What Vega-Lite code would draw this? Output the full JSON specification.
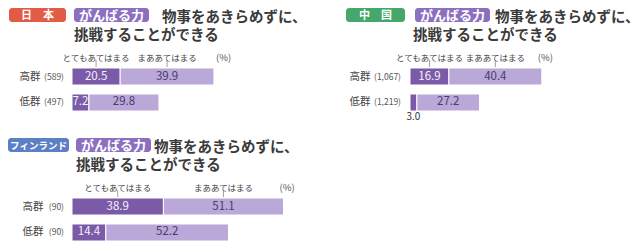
{
  "$schema": "https://vega.github.io/schema/vega-lite/v6.json",
  "background": "white",
  "padding": {"left": 7, "top": 6, "right": 0, "bottom": 0},
  "config": {"view": {"stroke": null}, "font": "Noto Sans CJK JP"},
  "spacing": 14,
  "vconcat": [
    {
      "spacing": 38,
      "hconcat": [
        {
          "spacing": 0,
          "vconcat": [
            {
              "width": 131, "height": 36,
              "data": {"values": [
                {"role": "country", "line": 1, "text": "日　本"},
                {"role": "tag", "line": 1, "text": "がんばる力"},
                {"role": "q", "line": 1, "text": "物事をあきらめずに、"},
                {"role": "q", "line": 2, "text": "挑戦することができる"}
              ]},
              "encoding": {"y": {"field": "line", "type": "ordinal", "scale": {"domain": [1, 2], "paddingInner": 0, "paddingOuter": 0}, "axis": null, "title": null}},
              "layer": [
                {"transform": [{"filter": "datum.role === 'country'"}], "mark": {"type": "rect", "width": 57, "height": 14, "cornerRadius": 3, "color": "#e25b45"},
                 "encoding": {"x": {"field": "role", "type": "nominal", "scale": {"domain": ["country", "tag"], "range": [-63, 68], "paddingInner": 0.2297, "paddingOuter": 0}, "axis": null, "title": null}}},
                {"transform": [{"filter": "datum.role === 'tag'"}], "mark": {"type": "rect", "width": 75, "height": 14, "cornerRadius": 3, "color": "#8c6fbf"},
                 "encoding": {"x": {"field": "role", "type": "nominal", "axis": null, "title": null}}},
                {"transform": [{"filter": "datum.role === 'country'"}], "mark": {"type": "text", "color": "white", "fontSize": 11, "fontWeight": "bold", "dy": 0.5},
                 "encoding": {"x": {"field": "role", "type": "nominal", "axis": null, "title": null}, "text": {"field": "text"}}},
                {"transform": [{"filter": "datum.role === 'tag'"}], "mark": {"type": "text", "color": "white", "fontSize": 13, "fontWeight": "bold", "dy": 0.5},
                 "encoding": {"x": {"field": "role", "type": "nominal", "axis": null, "title": null}, "text": {"field": "text"}}},
                {"transform": [{"filter": "datum.role === 'q' && datum.line === 1"}], "mark": {"type": "text", "align": "left", "dx": 50.5, "dy": 2.5, "fontSize": 14.5, "fontWeight": "bold", "color": "#3a3a3a"},
                 "encoding": {"x": {"datum": "tag", "type": "nominal", "axis": null}, "text": {"field": "text"}}},
                {"transform": [{"filter": "datum.role === 'q' && datum.line === 2"}], "mark": {"type": "text", "align": "left", "dx": -37.5, "dy": 2.5, "fontSize": 14.5, "fontWeight": "bold", "color": "#3a3a3a"},
                 "encoding": {"x": {"datum": "tag", "type": "nominal", "axis": null}, "text": {"field": "text"}}}
              ]
            },
            {
              "width": 235, "height": 69,
              "data": {"values": [
                {"grp": "高群", "n": "(589)", "cat": "とてもあてはまる", "v": 20.5},
                {"grp": "高群", "n": "(589)", "cat": "まああてはまる", "v": 39.9},
                {"grp": "低群", "n": "(497)", "cat": "とてもあてはまる", "v": 7.2},
                {"grp": "低群", "n": "(497)", "cat": "まああてはまる", "v": 29.8}
              ]},
              "transform": [
                {"stack": "v", "groupby": ["grp"], "sort": [{"field": "cat", "order": "ascending"}], "as": ["x0", "x1"]},
                {"calculate": "(datum.x0 + datum.x1) / 2", "as": "mid"}
              ],
              "encoding": {"y": {"field": "grp", "type": "nominal", "title": null, "scale": {"domain": ["高群", "低群"], "paddingInner": 0.346, "paddingOuter": 0.5, "align": 1},
                "axis": {"domain": false, "ticks": false, "labelPadding": 32, "labelFontSize": 10.5, "labelColor": "#444", "minExtent": 63, "maxExtent": 63, "title": null}}},
              "layer": [
                {"mark": {"type": "bar", "stroke": "white", "strokeWidth": 1},
                 "encoding": {"x": {"field": "x0", "type": "quantitative", "scale": {"domain": [0, 100]}, "axis": null, "title": null}, "x2": {"field": "x1"},
                   "color": {"field": "cat", "type": "nominal", "scale": {"domain": ["とてもあてはまる", "まああてはまる"], "range": ["#7b5aa7", "#b9a8d8"]}, "legend": null}}},
                {"transform": [{"filter": "datum.cat === 'とてもあてはまる' && datum.v >= 5"}], "mark": {"type": "text", "color": "#f4f0fa", "fontSize": 11.5},
                 "encoding": {"x": {"field": "mid", "type": "quantitative", "axis": null}, "text": {"field": "v", "format": ".1f"}}},
                {"transform": [{"filter": "datum.cat === 'まああてはまる' && datum.v >= 5"}], "mark": {"type": "text", "color": "#4a3b6e", "fontSize": 11.5},
                 "encoding": {"x": {"field": "mid", "type": "quantitative", "axis": null}, "text": {"field": "v", "format": ".1f"}}},
                {"transform": [{"filter": "datum.grp === '高群'"}], "mark": {"type": "text", "color": "#444", "fontSize": 8.5, "yOffset": -18.5},
                 "encoding": {"x": {"field": "mid", "type": "quantitative", "axis": null}, "text": {"field": "cat"}}},
                {"transform": [{"filter": "datum.grp === '高群'"}], "mark": {"type": "tick", "orient": "vertical", "size": 7, "thickness": 1, "color": "#777", "yOffset": -13},
                 "encoding": {"x": {"field": "mid", "type": "quantitative", "axis": null}}},
                {"transform": [{"filter": "datum.grp === '高群' && datum.cat === 'まああてはまる'"}], "mark": {"type": "text", "align": "left", "dx": 2, "yOffset": -18.5, "fontSize": 9.5, "color": "#555"},
                 "encoding": {"x": {"field": "x1", "type": "quantitative", "axis": null}, "text": {"value": "(%)"}}},
                {"transform": [{"filter": "datum.cat === 'とてもあてはまる'"}], "mark": {"type": "text", "align": "right", "dx": -8, "fontSize": 8.5, "color": "#555"},
                 "encoding": {"x": {"datum": 0, "type": "quantitative", "axis": null}, "text": {"field": "n"}}}
              ]
            }
          ]
        },
        {
          "spacing": 0,
          "vconcat": [
            {
              "width": 136, "height": 36,
              "data": {"values": [
                {"role": "country", "line": 1, "text": "中　国"},
                {"role": "tag", "line": 1, "text": "がんばる力"},
                {"role": "q", "line": 1, "text": "物事をあきらめずに、"},
                {"role": "q", "line": 2, "text": "挑戦することができる"}
              ]},
              "encoding": {"y": {"field": "line", "type": "ordinal", "scale": {"domain": [1, 2], "paddingInner": 0, "paddingOuter": 0}, "axis": null, "title": null}},
              "layer": [
                {"transform": [{"filter": "datum.role === 'country'"}], "mark": {"type": "rect", "width": 59, "height": 14, "cornerRadius": 3, "color": "#45a86a"},
                 "encoding": {"x": {"field": "role", "type": "nominal", "scale": {"domain": ["country", "tag"], "range": [-64, 72], "paddingInner": 0.2338, "paddingOuter": 0}, "axis": null, "title": null}}},
                {"transform": [{"filter": "datum.role === 'tag'"}], "mark": {"type": "rect", "width": 75, "height": 14, "cornerRadius": 3, "color": "#8c6fbf"},
                 "encoding": {"x": {"field": "role", "type": "nominal", "axis": null, "title": null}}},
                {"transform": [{"filter": "datum.role === 'country'"}], "mark": {"type": "text", "color": "white", "fontSize": 11, "fontWeight": "bold", "dy": 0.5},
                 "encoding": {"x": {"field": "role", "type": "nominal", "axis": null, "title": null}, "text": {"field": "text"}}},
                {"transform": [{"filter": "datum.role === 'tag'"}], "mark": {"type": "text", "color": "white", "fontSize": 13, "fontWeight": "bold", "dy": 0.5},
                 "encoding": {"x": {"field": "role", "type": "nominal", "axis": null, "title": null}, "text": {"field": "text"}}},
                {"transform": [{"filter": "datum.role === 'q' && datum.line === 1"}], "mark": {"type": "text", "align": "left", "dx": 42.5, "dy": 2.5, "fontSize": 14.5, "fontWeight": "bold", "color": "#3a3a3a"},
                 "encoding": {"x": {"datum": "tag", "type": "nominal", "axis": null}, "text": {"field": "text"}}},
                {"transform": [{"filter": "datum.role === 'q' && datum.line === 2"}], "mark": {"type": "text", "align": "left", "dx": -39.5, "dy": 2.5, "fontSize": 14.5, "fontWeight": "bold", "color": "#3a3a3a"},
                 "encoding": {"x": {"datum": "tag", "type": "nominal", "axis": null}, "text": {"field": "text"}}}
              ]
            },
            {
              "width": 230, "height": 69,
              "data": {"values": [
                {"grp": "高群", "n": "(1,067)", "cat": "とてもあてはまる", "v": 16.9},
                {"grp": "高群", "n": "(1,067)", "cat": "まああてはまる", "v": 40.4},
                {"grp": "低群", "n": "(1,219)", "cat": "とてもあてはまる", "v": 3.0},
                {"grp": "低群", "n": "(1,219)", "cat": "まああてはまる", "v": 27.2}
              ]},
              "transform": [
                {"stack": "v", "groupby": ["grp"], "sort": [{"field": "cat", "order": "ascending"}], "as": ["x0", "x1"]},
                {"calculate": "(datum.x0 + datum.x1) / 2", "as": "mid"}
              ],
              "encoding": {"y": {"field": "grp", "type": "nominal", "title": null, "scale": {"domain": ["高群", "低群"], "paddingInner": 0.346, "paddingOuter": 0.5, "align": 1},
                "axis": {"domain": false, "ticks": false, "labelPadding": 40, "labelFontSize": 10.5, "labelColor": "#444", "minExtent": 64, "maxExtent": 64, "title": null}}},
              "layer": [
                {"mark": {"type": "bar", "stroke": "white", "strokeWidth": 1},
                 "encoding": {"x": {"field": "x0", "type": "quantitative", "scale": {"domain": [0, 98]}, "axis": null, "title": null}, "x2": {"field": "x1"},
                   "color": {"field": "cat", "type": "nominal", "scale": {"domain": ["とてもあてはまる", "まああてはまる"], "range": ["#7b5aa7", "#b9a8d8"]}, "legend": null}}},
                {"transform": [{"filter": "datum.cat === 'とてもあてはまる' && datum.v >= 5"}], "mark": {"type": "text", "color": "#f4f0fa", "fontSize": 11.5},
                 "encoding": {"x": {"field": "mid", "type": "quantitative", "axis": null}, "text": {"field": "v", "format": ".1f"}}},
                {"transform": [{"filter": "datum.cat === 'まああてはまる' && datum.v >= 5"}], "mark": {"type": "text", "color": "#4a3b6e", "fontSize": 11.5},
                 "encoding": {"x": {"field": "mid", "type": "quantitative", "axis": null}, "text": {"field": "v", "format": ".1f"}}},
                {"transform": [{"filter": "datum.v < 5"}], "mark": {"type": "text", "color": "#333", "fontSize": 10, "baseline": "top", "dy": 1},
                 "encoding": {"x": {"field": "mid", "type": "quantitative", "axis": null}, "y": {"field": "grp", "type": "nominal", "bandPosition": 1, "title": null}, "text": {"field": "v", "format": ".1f"}}},
                {"transform": [{"filter": "datum.grp === '高群'"}], "mark": {"type": "text", "color": "#444", "fontSize": 8.5, "yOffset": -18.5},
                 "encoding": {"x": {"field": "mid", "type": "quantitative", "axis": null}, "text": {"field": "cat"}}},
                {"transform": [{"filter": "datum.grp === '高群'"}], "mark": {"type": "tick", "orient": "vertical", "size": 7, "thickness": 1, "color": "#777", "yOffset": -13},
                 "encoding": {"x": {"field": "mid", "type": "quantitative", "axis": null}}},
                {"transform": [{"filter": "datum.grp === '高群' && datum.cat === 'まああてはまる'"}], "mark": {"type": "text", "align": "left", "dx": -4, "yOffset": -18.5, "fontSize": 9.5, "color": "#555"},
                 "encoding": {"x": {"field": "x1", "type": "quantitative", "axis": null}, "text": {"value": "(%)"}}},
                {"transform": [{"filter": "datum.cat === 'とてもあてはまる'"}], "mark": {"type": "text", "align": "right", "dx": -9, "fontSize": 8.5, "color": "#555"},
                 "encoding": {"x": {"datum": 0, "type": "quantitative", "axis": null}, "text": {"field": "n"}}}
              ]
            }
          ]
        }
      ]
    },
    {
      "spacing": 0,
      "vconcat": [
        {
          "width": 136, "height": 36,
          "data": {"values": [
            {"role": "country", "line": 1, "text": "フィンランド"},
            {"role": "tag", "line": 1, "text": "がんばる力"},
            {"role": "q", "line": 1, "text": "物事をあきらめずに、"},
            {"role": "q", "line": 2, "text": "挑戦することができる"}
          ]},
          "encoding": {"y": {"field": "line", "type": "ordinal", "scale": {"domain": [1, 2], "paddingInner": 0, "paddingOuter": 0}, "axis": null, "title": null}},
          "layer": [
            {"transform": [{"filter": "datum.role === 'country'"}], "mark": {"type": "rect", "width": 61, "height": 14, "cornerRadius": 3, "color": "#5b80c6"},
             "encoding": {"x": {"field": "role", "type": "nominal", "scale": {"domain": ["country", "tag"], "range": [-64, 72], "paddingInner": 0.1867, "paddingOuter": 0}, "axis": null, "title": null}}},
            {"transform": [{"filter": "datum.role === 'tag'"}], "mark": {"type": "rect", "width": 75, "height": 14, "cornerRadius": 3, "color": "#8c6fbf"},
             "encoding": {"x": {"field": "role", "type": "nominal", "axis": null, "title": null}}},
            {"transform": [{"filter": "datum.role === 'country'"}], "mark": {"type": "text", "color": "white", "fontSize": 9.5, "fontWeight": "bold", "dy": 0.5},
             "encoding": {"x": {"field": "role", "type": "nominal", "axis": null, "title": null}, "text": {"field": "text"}}},
            {"transform": [{"filter": "datum.role === 'tag'"}], "mark": {"type": "text", "color": "white", "fontSize": 13, "fontWeight": "bold", "dy": 0.5},
             "encoding": {"x": {"field": "role", "type": "nominal", "axis": null, "title": null}, "text": {"field": "text"}}},
            {"transform": [{"filter": "datum.role === 'q' && datum.line === 1"}], "mark": {"type": "text", "align": "left", "dx": 40.5, "dy": 2.5, "fontSize": 14.5, "fontWeight": "bold", "color": "#3a3a3a"},
             "encoding": {"x": {"datum": "tag", "type": "nominal", "axis": null}, "text": {"field": "text"}}},
            {"transform": [{"filter": "datum.role === 'q' && datum.line === 2"}], "mark": {"type": "text", "align": "left", "dx": -37.5, "dy": 2.5, "fontSize": 14.5, "fontWeight": "bold", "color": "#3a3a3a"},
             "encoding": {"x": {"datum": "tag", "type": "nominal", "axis": null}, "text": {"field": "text"}}}
          ]
        },
        {
          "width": 235, "height": 69,
          "data": {"values": [
            {"grp": "高群", "n": "(90)", "cat": "とてもあてはまる", "v": 38.9},
            {"grp": "高群", "n": "(90)", "cat": "まああてはまる", "v": 51.1},
            {"grp": "低群", "n": "(90)", "cat": "とてもあてはまる", "v": 14.4},
            {"grp": "低群", "n": "(90)", "cat": "まああてはまる", "v": 52.2}
          ]},
          "transform": [
            {"stack": "v", "groupby": ["grp"], "sort": [{"field": "cat", "order": "ascending"}], "as": ["x0", "x1"]},
            {"calculate": "(datum.x0 + datum.x1) / 2", "as": "mid"}
          ],
          "encoding": {"y": {"field": "grp", "type": "nominal", "title": null, "scale": {"domain": ["高群", "低群"], "paddingInner": 0.346, "paddingOuter": 0.5, "align": 1},
            "axis": {"domain": false, "ticks": false, "labelPadding": 29, "labelFontSize": 10.5, "labelColor": "#444", "minExtent": 64, "maxExtent": 64, "title": null}}},
          "layer": [
            {"mark": {"type": "bar", "stroke": "white", "strokeWidth": 1},
             "encoding": {"x": {"field": "x0", "type": "quantitative", "scale": {"domain": [0, 100]}, "axis": null, "title": null}, "x2": {"field": "x1"},
               "color": {"field": "cat", "type": "nominal", "scale": {"domain": ["とてもあてはまる", "まああてはまる"], "range": ["#7b5aa7", "#b9a8d8"]}, "legend": null}}},
            {"transform": [{"filter": "datum.cat === 'とてもあてはまる' && datum.v >= 5"}], "mark": {"type": "text", "color": "#f4f0fa", "fontSize": 11.5},
             "encoding": {"x": {"field": "mid", "type": "quantitative", "axis": null}, "text": {"field": "v", "format": ".1f"}}},
            {"transform": [{"filter": "datum.cat === 'まああてはまる' && datum.v >= 5"}], "mark": {"type": "text", "color": "#4a3b6e", "fontSize": 11.5},
             "encoding": {"x": {"field": "mid", "type": "quantitative", "axis": null}, "text": {"field": "v", "format": ".1f"}}},
            {"transform": [{"filter": "datum.grp === '高群'"}], "mark": {"type": "text", "color": "#444", "fontSize": 8.5, "yOffset": -18.5},
             "encoding": {"x": {"field": "mid", "type": "quantitative", "axis": null}, "text": {"field": "cat"}}},
            {"transform": [{"filter": "datum.grp === '高群'"}], "mark": {"type": "tick", "orient": "vertical", "size": 7, "thickness": 1, "color": "#777", "yOffset": -13},
             "encoding": {"x": {"field": "mid", "type": "quantitative", "axis": null}}},
            {"transform": [{"filter": "datum.grp === '高群' && datum.cat === 'まああてはまる'"}], "mark": {"type": "text", "align": "left", "dx": -4, "yOffset": -18.5, "fontSize": 9.5, "color": "#555"},
             "encoding": {"x": {"field": "x1", "type": "quantitative", "axis": null}, "text": {"value": "(%)"}}},
            {"transform": [{"filter": "datum.cat === 'とてもあてはまる'"}], "mark": {"type": "text", "align": "right", "dx": -8, "fontSize": 8.5, "color": "#555"},
             "encoding": {"x": {"datum": 0, "type": "quantitative", "axis": null}, "text": {"field": "n"}}}
          ]
        }
      ]
    }
  ]
}
